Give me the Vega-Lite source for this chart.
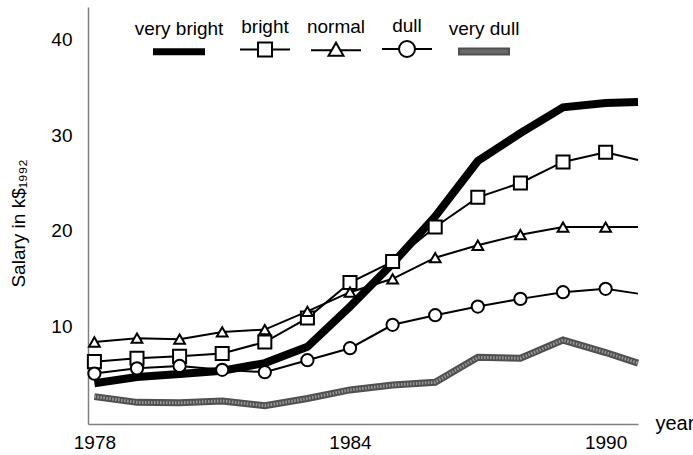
{
  "$schema": "https://vega.github.io/schema/vega-lite/v6.json",
  "width": 550,
  "height": 417,
  "autosize": {"type": "none"},
  "padding": {"left": 88, "top": 7, "right": 55, "bottom": 31},
  "config": {
    "font": "Liberation Sans",
    "view": {"stroke": null},
    "axis": {
      "grid": false,
      "ticks": false,
      "tickSize": 0,
      "domainColor": "#7f7f7f",
      "domainWidth": 1.5,
      "labelColor": "#000000",
      "titleColor": "#000000",
      "labelFont": "Liberation Sans",
      "titleFont": "Liberation Sans",
      "titleFontWeight": "normal",
      "labelFontSize": 19,
      "labelFlush": false
    },
    "legend": {
      "orient": "none",
      "legendX": 65,
      "legendY": 3,
      "direction": "horizontal",
      "symbolSize": 2500,
      "symbolStrokeWidth": 2,
      "labelFont": "Liberation Sans",
      "labelFontSize": 19,
      "labelColor": "#000000",
      "labelAlign": "center",
      "labelOffset": -26,
      "labelBaseline": "bottom",
      "labelLimit": 300,
      "columnPadding": 12,
      "padding": 0
    }
  },
  "data": {
    "values": [
      {"series": "very bright", "year": 1978, "value": 4.1},
      {"series": "very bright", "year": 1979, "value": 4.75},
      {"series": "very bright", "year": 1980, "value": 5.05},
      {"series": "very bright", "year": 1981, "value": 5.4},
      {"series": "very bright", "year": 1982, "value": 6.2},
      {"series": "very bright", "year": 1983, "value": 7.9},
      {"series": "very bright", "year": 1984, "value": 12.1},
      {"series": "very bright", "year": 1985, "value": 16.6},
      {"series": "very bright", "year": 1986, "value": 21.5},
      {"series": "very bright", "year": 1987, "value": 27.3},
      {"series": "very bright", "year": 1988, "value": 30.2},
      {"series": "very bright", "year": 1989, "value": 32.9},
      {"series": "very bright", "year": 1990, "value": 33.35},
      {"series": "very bright", "year": 1990.76, "value": 33.45},
      {"series": "bright", "year": 1978, "value": 6.35},
      {"series": "bright", "year": 1979, "value": 6.7},
      {"series": "bright", "year": 1980, "value": 6.9},
      {"series": "bright", "year": 1981, "value": 7.2},
      {"series": "bright", "year": 1982, "value": 8.4},
      {"series": "bright", "year": 1983, "value": 10.9},
      {"series": "bright", "year": 1984, "value": 14.6},
      {"series": "bright", "year": 1985, "value": 16.8},
      {"series": "bright", "year": 1986, "value": 20.4},
      {"series": "bright", "year": 1987, "value": 23.5},
      {"series": "bright", "year": 1988, "value": 25.0},
      {"series": "bright", "year": 1989, "value": 27.2},
      {"series": "bright", "year": 1990, "value": 28.2},
      {"series": "bright", "year": 1990.76, "value": 27.4},
      {"series": "normal", "year": 1978, "value": 8.4},
      {"series": "normal", "year": 1979, "value": 8.8},
      {"series": "normal", "year": 1980, "value": 8.7},
      {"series": "normal", "year": 1981, "value": 9.45},
      {"series": "normal", "year": 1982, "value": 9.7},
      {"series": "normal", "year": 1983, "value": 11.6},
      {"series": "normal", "year": 1984, "value": 13.6},
      {"series": "normal", "year": 1985, "value": 15.0},
      {"series": "normal", "year": 1986, "value": 17.2},
      {"series": "normal", "year": 1987, "value": 18.5},
      {"series": "normal", "year": 1988, "value": 19.6},
      {"series": "normal", "year": 1989, "value": 20.4},
      {"series": "normal", "year": 1990, "value": 20.4},
      {"series": "normal", "year": 1990.76, "value": 20.4},
      {"series": "dull", "year": 1978, "value": 5.1},
      {"series": "dull", "year": 1979, "value": 5.65},
      {"series": "dull", "year": 1980, "value": 5.9},
      {"series": "dull", "year": 1981, "value": 5.5},
      {"series": "dull", "year": 1982, "value": 5.25},
      {"series": "dull", "year": 1983, "value": 6.5},
      {"series": "dull", "year": 1984, "value": 7.75},
      {"series": "dull", "year": 1985, "value": 10.2},
      {"series": "dull", "year": 1986, "value": 11.2},
      {"series": "dull", "year": 1987, "value": 12.1},
      {"series": "dull", "year": 1988, "value": 12.9},
      {"series": "dull", "year": 1989, "value": 13.6},
      {"series": "dull", "year": 1990, "value": 13.95},
      {"series": "dull", "year": 1990.76, "value": 13.45},
      {"series": "very dull", "year": 1978, "value": 2.7},
      {"series": "very dull", "year": 1979, "value": 2.1},
      {"series": "very dull", "year": 1980, "value": 2.05},
      {"series": "very dull", "year": 1981, "value": 2.25},
      {"series": "very dull", "year": 1982, "value": 1.75},
      {"series": "very dull", "year": 1983, "value": 2.5},
      {"series": "very dull", "year": 1984, "value": 3.4},
      {"series": "very dull", "year": 1985, "value": 3.9},
      {"series": "very dull", "year": 1986, "value": 4.2},
      {"series": "very dull", "year": 1987, "value": 6.8},
      {"series": "very dull", "year": 1988, "value": 6.7},
      {"series": "very dull", "year": 1989, "value": 8.6},
      {"series": "very dull", "year": 1990, "value": 7.3},
      {"series": "very dull", "year": 1990.76, "value": 6.2}
    ]
  },
  "encoding": {
    "x": {
      "field": "year",
      "type": "quantitative",
      "scale": {"domain": [1977.85, 1990.76], "nice": false, "zero": false},
      "axis": {
        "values": [1978, 1984, 1990],
        "format": "d",
        "labelPadding": 9,
        "title": "year",
        "titleFontSize": 20,
        "titleX": 567,
        "titleY": 5,
        "titleAlign": "left",
        "titleBaseline": "alphabetic"
      }
    },
    "y": {
      "field": "value",
      "type": "quantitative",
      "scale": {"domain": [-0.16, 43.37], "nice": false, "zero": false},
      "axis": {
        "values": [10, 20, 30, 40],
        "labelPadding": 16,
        "title": "Salary in k$₁₉₉₂",
        "titleFontSize": 19,
        "titleX": -64,
        "titleY": 216,
        "titleAngle": -90,
        "titleAlign": "center",
        "titleBaseline": "alphabetic"
      }
    }
  },
  "layer": [
    {
      "transform": [{"filter": "datum.series == 'very dull'"}],
      "mark": {"type": "line", "color": "#505050", "strokeWidth": 7}
    },
    {
      "transform": [{"filter": "datum.series == 'very dull'"}],
      "mark": {"type": "line", "color": "#9a9a9a", "strokeWidth": 3, "strokeDash": [1.5, 1.5]}
    },
    {
      "transform": [{"filter": "datum.series == 'bright' || datum.series == 'normal' || datum.series == 'dull'"}],
      "mark": {"type": "line", "color": "#000000", "strokeWidth": 2},
      "encoding": {"detail": {"field": "series", "type": "nominal"}}
    },
    {
      "transform": [{"filter": "datum.series == 'very bright'"}],
      "mark": {"type": "line", "color": "#000000", "strokeWidth": 8}
    },
    {
      "transform": [{"filter": "datum.series == 'bright' && datum.year <= 1990"}],
      "mark": {"type": "point", "shape": "square", "size": 170, "filled": true, "fill": "#ffffff", "stroke": "#000000", "strokeWidth": 2, "opacity": 1}
    },
    {
      "transform": [{"filter": "datum.series == 'normal' && datum.year <= 1990"}],
      "mark": {"type": "point", "shape": "triangle-up", "size": 115, "filled": true, "fill": "#ffffff", "stroke": "#000000", "strokeWidth": 2, "opacity": 1}
    },
    {
      "transform": [{"filter": "datum.series == 'dull' && datum.year <= 1990"}],
      "mark": {"type": "point", "shape": "circle", "size": 150, "filled": true, "fill": "#ffffff", "stroke": "#000000", "strokeWidth": 2, "opacity": 1}
    },
    {
      "transform": [{"filter": "datum.year < 0"}],
      "mark": {"type": "point", "filled": true, "opacity": 1, "strokeWidth": 2},
      "encoding": {
        "shape": {
          "field": "series",
          "type": "nominal",
          "title": null,
          "scale": {
            "domain": ["very bright", "bright", "normal", "dull", "very dull"],
            "range": [
              "M-1,0.42H1V0.62H-1Z",
              "M-1,0.52H-0.28M0.28,0.52H1M-0.28,0.24H0.28V0.8H-0.28Z",
              "M-1,0.52H-0.17M0.17,0.52H1M0,0.22L0.3,0.74H-0.3Z",
              "M-1,0.52H-0.32M0.32,0.52H1M-0.32,0.52A0.32,0.32,0,1,0,0.32,0.52A0.32,0.32,0,1,0,-0.32,0.52Z",
              "M-1,0.4H1V0.64H-1Z"
            ]
          }
        },
        "fill": {
          "field": "series",
          "type": "nominal",
          "title": null,
          "scale": {
            "domain": ["very bright", "bright", "normal", "dull", "very dull"],
            "range": ["#000000", "#ffffff", "#ffffff", "#ffffff", "#6a6a6a"]
          }
        },
        "stroke": {
          "field": "series",
          "type": "nominal",
          "title": null,
          "scale": {
            "domain": ["very bright", "bright", "normal", "dull", "very dull"],
            "range": ["#000000", "#000000", "#000000", "#000000", "#505050"]
          }
        }
      }
    }
  ]
}
